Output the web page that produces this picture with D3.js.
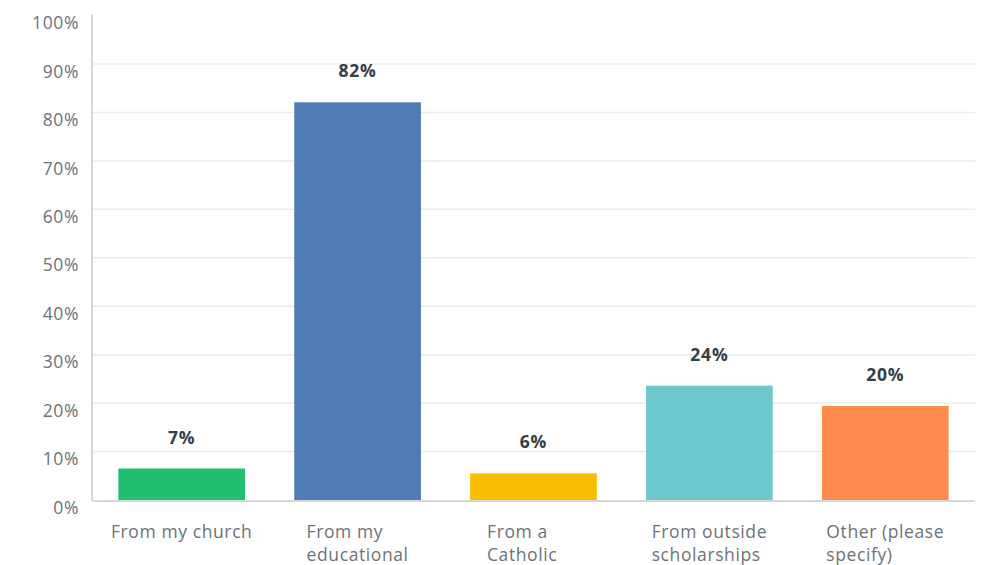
<!DOCTYPE html>
<html>
<head>
<meta charset="utf-8">
<script src="https://cdn.jsdelivr.net/npm/d3@7"></script>
<style>
  html, body { margin: 0; padding: 0; background: #ffffff; }
  svg { display: block; font-family: "Open Sans", sans-serif; }
</style>
</head>
<body>
<svg id="chart" width="984" height="565"></svg>
<script>
const categories = ["From my church", "From my educational", "From a Catholic", "From outside scholarships", "Other (please specify)"];
const categoryLines = [["From my church"], ["From my", "educational"], ["From a", "Catholic"], ["From outside", "scholarships"], ["Other (please", "specify)"]];
const values = [6.5, 82.1, 5.5, 23.6, 19.4];
const valueLabels = ["7%", "82%", "6%", "24%", "20%"];
const colors = ["#1fbf6f", "#507cb6", "#f9be00", "#6bc8cd", "#ff8b4f"];
const yTicks = [0, 10, 20, 30, 40, 50, 60, 70, 80, 90, 100];

(function () {
const svg = d3.select("#chart");
const plotLeft = 92, plotRight = 975, plotTop = 15.6, plotBottom = 500;

const x = d3.scaleBand().domain(categories).range([plotLeft, plotRight]).paddingInner(0.28).paddingOuter(0.15);
const y = d3.scaleLinear().domain([0, 100]).range([plotBottom, plotTop]);

// gridlines
svg.append("g").selectAll("line").data(yTicks.filter(d => d > 0 && d < 100)).join("line")
  .attr("x1", plotLeft).attr("x2", plotRight)
  .attr("y1", d => y(d)).attr("y2", d => y(d))
  .attr("stroke", "#ececec").attr("stroke-width", 1.5);

// y tick labels
svg.append("g").selectAll("text").data(yTicks).join("text")
  .attr("x", 79).attr("y", d => y(d) + 7.5).attr("dy", "0.35em")
  .attr("text-anchor", "end")
  .attr("font-size", 17.5).attr("letter-spacing", 0.6).attr("fill", "#6b7378")
  .text(d => d + "%");

// bars
svg.append("g").selectAll("rect").data(values).join("rect")
  .attr("x", (d, i) => x(categories[i]))
  .attr("width", x.bandwidth())
  .attr("y", d => y(d))
  .attr("height", d => y(0) - y(d))
  .attr("fill", (d, i) => colors[i]);

// axis lines
svg.append("line").attr("x1", plotLeft).attr("x2", plotLeft).attr("y1", 14).attr("y2", plotBottom + 1)
  .attr("stroke", "#d5d7d8").attr("stroke-width", 2);
svg.append("line").attr("x1", plotLeft).attr("x2", plotRight).attr("y1", plotBottom + 1).attr("y2", plotBottom + 1)
  .attr("stroke", "#d5d7d8").attr("stroke-width", 2);

// value labels
svg.append("g").selectAll("text").data(values).join("text")
  .attr("x", (d, i) => x(categories[i]) + x.bandwidth() / 2)
  .attr("y", d => y(d) - 25)
  .attr("text-anchor", "middle")
  .attr("font-size", 17.5).attr("letter-spacing", 0.8).attr("font-weight", "bold").attr("fill", "#333e48")
  .text((d, i) => valueLabels[i]);

// category labels (left-aligned block, centered on bar, min block width)
const minBlock = 93;
const catG = svg.append("g");
categoryLines.forEach((lines, i) => {
  const t = catG.append("text")
    .attr("font-size", 17.5).attr("letter-spacing", 0.6).attr("fill", "#6b7378");
  lines.forEach((ln, j) => {
    t.append("tspan").attr("x", 0).attr("y", 538 + j * 23).text(ln);
  });
  const cx = x(categories[i]) + x.bandwidth() / 2;
  const w = Math.max(minBlock, t.node().getBBox().width);
  t.selectAll("tspan").attr("x", cx - w / 2);
});
})();
</script>
</body>
</html>
